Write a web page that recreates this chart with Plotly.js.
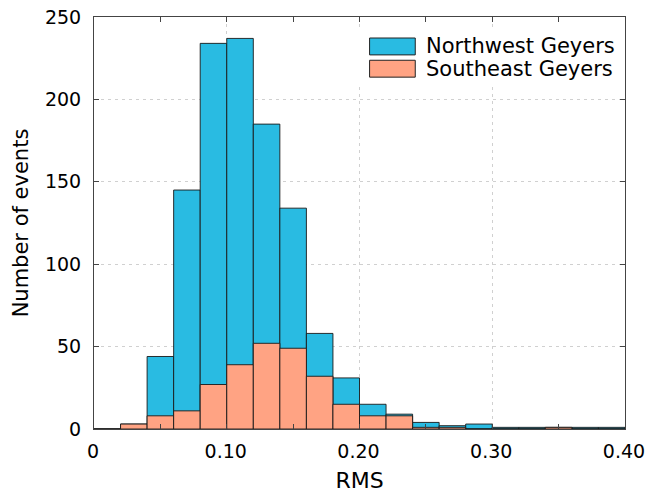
<!DOCTYPE html>
<html>
<head>
<meta charset="utf-8">
<script src="https://cdn.plot.ly/plotly-3.0.1.min.js"></script>
<style>
  html, body { margin: 0; padding: 0; background: #fff; }
  #chart { width: 646px; height: 493px; }
</style>
</head>
<body>
<div id="chart"></div>
<script>
// Histogram of RMS residuals, bin width 0.02 from 0 to 0.40
const binStarts = [0.00, 0.02, 0.04, 0.06, 0.08, 0.10, 0.12, 0.14, 0.16, 0.18,
                   0.20, 0.22, 0.24, 0.26, 0.28, 0.30, 0.32, 0.34, 0.36, 0.38];
const binWidth = 0.02;
const northwestCounts = [0, 3, 44, 145, 234, 237, 185, 134, 58, 31,
                         15, 9, 4, 2, 3, 1, 1, 1, 1, 1];
const southeastCounts = [0, 3, 8, 11, 27, 39, 52, 49, 32, 15,
                         8, 8, 1, 1, 0, 0, 0, 1, 0, 0];
const seriesNames = ['Northwest Geyers', 'Southeast Geyers'];
const xTickVals = [0, 0.1, 0.2, 0.3, 0.4];
const xTickText = ['0', '0.10', '0.20', '0.30', '0.40'];
const yTickVals = [0, 50, 100, 150, 200, 250];

const colors = ['#29bbe2', '#ffa383'];
const FONT = 'DejaVu Sans, Verdana, sans-serif';
const centers = binStarts.map(s => s + binWidth / 2);
const edge = { color: 'rgba(25,25,25,0.9)', width: 1 };

const traces = [northwestCounts, southeastCounts].map((counts, i) => ({
  type: 'bar', name: seriesNames[i],
  x: centers, y: counts, width: binWidth,
  marker: { color: colors[i], line: edge },
  showlegend: false
}));

// Boxed legend in the upper right corner of the plot area
const legendShapes = [
  { type: 'rect', xref: 'paper', yref: 'paper', layer: 'above',
    x0: 0.496, x1: 0.992, y0: 0.83, y1: 0.973,
    fillcolor: '#fff', line: { width: 0 } },
  { type: 'rect', xref: 'paper', yref: 'paper', layer: 'above',
    x0: 0.519, x1: 0.605, y0: 0.908, y1: 0.949,
    fillcolor: colors[0], line: { color: '#222', width: 1 } },
  { type: 'rect', xref: 'paper', yref: 'paper', layer: 'above',
    x0: 0.519, x1: 0.605, y0: 0.854, y1: 0.895,
    fillcolor: colors[1], line: { color: '#222', width: 1 } }
];
const legendLabels = seriesNames.map((name, i) => ({
  xref: 'paper', yref: 'paper', x: 0.622, y: i === 0 ? 0.929 : 0.874,
  xanchor: 'left', yanchor: 'middle', showarrow: false,
  text: name, font: { family: FONT, size: 21, color: '#000' }
}));

const tickFont = { family: FONT, size: 19, color: '#000' };
const titleFont = { family: FONT, size: 21, color: '#000' };

const layout = {
  width: 646, height: 493,
  margin: { l: 94, r: 21, t: 17, b: 64 },
  paper_bgcolor: '#fff', plot_bgcolor: '#fff',
  barmode: 'overlay', bargap: 0,
  showlegend: false,
  shapes: legendShapes,
  annotations: legendLabels,
  xaxis: {
    range: [0, 0.4], tickvals: xTickVals, ticktext: xTickText,
    ticks: 'inside', ticklen: 5, tickcolor: '#444',
    minor: { dtick: 0.05, tick0: 0, ticks: 'inside', ticklen: 5, tickcolor: '#444', showgrid: false },
    showline: true, linecolor: '#444', linewidth: 1, mirror: 'allticks',
    showgrid: true, gridcolor: '#d0d0d0', griddash: '3px,4px', gridwidth: 1,
    zeroline: false, tickfont: tickFont, ticklabelstandoff: 5,
    ticklabelshift: -1, ticklabeloverflow: 'allow',
    title: { text: 'RMS', font: { family: FONT, size: 22, color: '#000' }, standoff: 12 }
  },
  yaxis: {
    range: [0, 250], tickvals: yTickVals,
    ticks: 'inside', ticklen: 5, tickcolor: '#444',
    showline: true, linecolor: '#444', linewidth: 1, mirror: 'allticks',
    showgrid: true, gridcolor: '#d0d0d0', griddash: '3px,4px', gridwidth: 1,
    zeroline: false, tickfont: tickFont, ticklabelstandoff: 8,
    ticklabeloverflow: 'allow',
    title: { text: 'Number of events', font: titleFont, standoff: 10 }
  }
};

Plotly.newPlot('chart', traces, layout, { displayModeBar: false, staticPlot: true });
</script>
</body>
</html>
